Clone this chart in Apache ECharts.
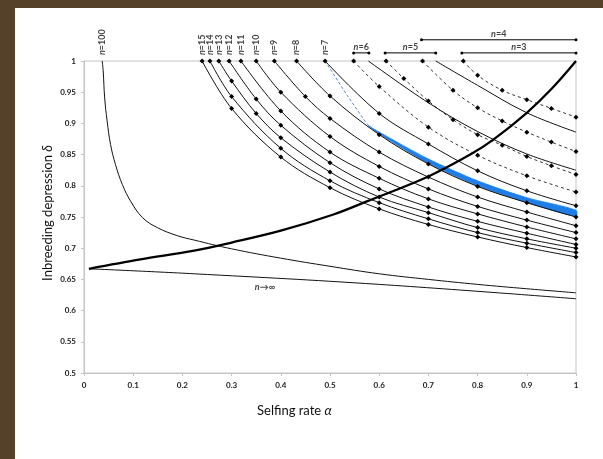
<!DOCTYPE html>
<html><head><meta charset="utf-8">
<script src="https://cdn.jsdelivr.net/npm/echarts/dist/echarts.min.js"></script>
<style>
html,body{margin:0;padding:0;background:#55402a;width:603px;height:459px;overflow:hidden;}
#panel{position:absolute;left:15px;top:8px;right:0;bottom:0;background:#fff;}
#chart{position:absolute;left:0;top:0;width:603px;height:459px;}
</style></head><body>
<div id="panel"></div><div id="chart"></div>
<script>
// ---------- data: [selfing rate alpha, inbreeding depression delta] ----------
const curveN15 = [[0.240,1],[0.30,0.924],[0.40,0.846],[0.50,0.797],[0.60,0.763],[0.70,0.738],[0.80,0.718],[0.90,0.701],[1.00,0.686]];
const curveN14 = [[0.256,1],[0.30,0.943],[0.40,0.860],[0.50,0.808],[0.60,0.773],[0.70,0.747],[0.80,0.725],[0.90,0.708],[1.00,0.693]];
const curveN13 = [[0.274,1],[0.30,0.968],[0.35,0.916],[0.40,0.877],[0.50,0.822],[0.60,0.782],[0.70,0.757],[0.80,0.733],[0.90,0.715],[1.00,0.700]];
const curveN12 = [[0.295,1],[0.35,0.939],[0.40,0.897],[0.50,0.837],[0.60,0.795],[0.70,0.766],[0.80,0.743],[0.90,0.724],[1.00,0.706]];
const curveN11 = [[0.319,1],[0.40,0.920],[0.50,0.854],[0.60,0.812],[0.70,0.779],[0.80,0.755],[0.90,0.734],[1.00,0.715]];
const curveN10 = [[0.350,1],[0.40,0.950],[0.50,0.879],[0.60,0.831],[0.70,0.795],[0.80,0.767],[0.90,0.745],[1.00,0.725]];
const curveN9  = [[0.387,1],[0.45,0.943],[0.50,0.908],[0.60,0.854],[0.70,0.814],[0.80,0.782],[0.90,0.758],[1.00,0.736]];
const curveN8  = [[0.432,1],[0.50,0.944],[0.60,0.882],[0.70,0.835],[0.80,0.799],[0.90,0.773],[1.00,0.750]];
const curveN7  = [[0.490,1],[0.60,0.916],[0.70,0.867],[0.80,0.824],[0.90,0.792],[1.00,0.768]];

const dashN3 = [[0.771,1],[0.80,0.977],[0.85,0.953],[0.90,0.938],[0.95,0.924],[1.00,0.910]];
const dashN4 = [[0.688,1],[0.75,0.953],[0.80,0.925],[0.85,0.904],[0.90,0.886],[0.95,0.870],[1.00,0.855]];
const dashN5 = [[0.614,1],[0.65,0.972],[0.70,0.936],[0.75,0.906],[0.80,0.882],[0.85,0.865],[0.90,0.847],[0.95,0.832],[1.00,0.818]];
const dashN6 = [[0.548,1],[0.60,0.959],[0.70,0.894],[0.80,0.849],[0.90,0.816],[1.00,0.790]];

const solidN5 = [[0.715,1],[0.80,0.961],[0.90,0.917],[1.00,0.886]];
const solidN6 = [[0.578,1],[0.70,0.933],[0.80,0.887],[0.90,0.851],[1.00,0.825]];

const curveN100 = [[0.037,1],[0.039,0.984],[0.042,0.941],[0.047,0.904],[0.054,0.866],[0.064,0.834],[0.078,0.802],[0.095,0.775],[0.119,0.749],[0.149,0.733],[0.190,0.720],[0.224,0.713],[0.30,0.699],[0.40,0.684],[0.50,0.671],[0.60,0.659],[0.70,0.650],[0.80,0.642],[0.90,0.635],[1.00,0.6285]];
const curveInf = [[0.01,0.667],[0.224,0.659],[0.60,0.642],[1.00,0.619]];
const thickCurve = [[0.01,0.667],[0.115,0.682],[0.224,0.696],[0.30,0.709],[0.40,0.728],[0.507,0.754],[0.575,0.775],[0.70,0.815],[0.785,0.850],[0.832,0.874],[0.90,0.917],[0.95,0.955],[1.00,1.00]];

const blueDash = [[0.49,1],[0.535,0.945],[0.577,0.897]];
const bandBase = [[0.577,0.897],[0.60,0.883],[0.70,0.836],[0.80,0.800],[0.90,0.773],[1.00,0.751]];
const bandWidth = [0, 0.003, 0.007, 0.008, 0.008, 0.010];

const markerCurves = [curveN15,curveN14,curveN13,curveN12,curveN11,curveN10,curveN9,curveN8,curveN7];
const markerNames  = ['15','14','13','12','11','10','9','8','7'];
const dashCurves = [dashN3,dashN4,dashN5,dashN6];
const solidCurves = [solidN5,solidN6];

// bracket annotations (n = 6,5,4,3): [from alpha, to alpha]
const bracketNames = ['6','5','4','3'];
const bracketSpans = [[0.548,0.579],[0.612,0.715],[0.686,1.0],[0.768,1.0]];
const bracketLevels = [1.013,1.013,1.034,1.013];

const yTicks = {min:0.5, max:1, step:0.05};
const xTicks = {min:0, max:1, step:0.1};

// ---------- chart ----------
const FONT = 'Lato, "DejaVu Sans", sans-serif';
const series = [];
const base = {type:'line', silent:true, animation:false, clip:false};

// blue band (polygon between base curve and base+width, through the axes' coordinate conversion)
series.push({type:'custom', silent:true, animation:false, clip:false, z:1, data:[bandBase[0]],
  renderItem:function(params, api){
    const upper = bandBase.map((p,i)=>api.coord([p[0], p[1]+bandWidth[i]]));
    const lower = bandBase.map(p=>api.coord(p)).reverse();
    return {type:'polygon', shape:{points: upper.concat(lower), smooth:0.25},
      style:{fill:'#1f7fe8', stroke:'#1f7fe8', lineWidth:0.8}};
  }});
series.push(Object.assign({}, base, {data: blueDash, smooth:0.3, symbol:'none', lineStyle:{color:'#5a86c0', width:1, type:[3,2]}, z:2}));

markerCurves.forEach(d => series.push(Object.assign({}, base, {data:d, smooth:0.35, symbol:'diamond', symbolSize:5,
  itemStyle:{color:'#000'}, lineStyle:{color:'#111', width:1}, z:3})));
dashCurves.forEach(d => series.push(Object.assign({}, base, {data:d, smooth:0.35, symbol:'diamond', symbolSize:5,
  itemStyle:{color:'#000'}, lineStyle:{color:'#333', width:1, type:[3,3]}, z:3})));
solidCurves.forEach(d => series.push(Object.assign({}, base, {data:d, smooth:0.35, symbol:'none',
  lineStyle:{color:'#111', width:1}, z:3})));
series.push(Object.assign({}, base, {data:curveN100, smooth:0.4, symbol:'none', lineStyle:{color:'#111', width:1}, z:3}));
series.push(Object.assign({}, base, {data:curveInf, smooth:0.4, symbol:'none', lineStyle:{color:'#111', width:1}, z:3}));
series.push(Object.assign({}, base, {data:thickCurve, smooth:0.35, symbol:'none', lineStyle:{color:'#000', width:2.3}, z:4}));

// brackets
bracketSpans.forEach((s,i) => {
  series.push(Object.assign({}, base, {data:[[s[0],bracketLevels[i]],[s[1],bracketLevels[i]]], symbol:'circle', symbolSize:3,
    itemStyle:{color:'#000'}, lineStyle:{color:'#000', width:1}, z:5}));
});
const richN = {i:{fontStyle:'italic', fontWeight:'bold', fontSize:9, fontFamily:FONT, color:'#111'},
               t:{fontWeight:'bold', fontSize:9, fontFamily:FONT, color:'#111'}};
series.push({type:'scatter', silent:true, animation:false, symbolSize:0, z:6, clip:false,
  data: bracketSpans.map((s,i)=>({value:[(s[0]+s[1])/2, bracketLevels[i]], label:{formatter:'{i|n}{t|=' + bracketNames[i] + '}'}})),
  label:{show:true, position:'top', distance:1, rich:richN}});

// rotated top labels
const topLabelData = markerCurves.map((c,i)=>({value:[c[0][0],1], label:{formatter:'{i|n}{t|=' + markerNames[i] + '}'}}));
topLabelData.push({value:[curveN100[0][0],1], label:{formatter:'{i|n}{t|=100}'}});
series.push({type:'scatter', silent:true, animation:false, symbolSize:0, z:6, clip:false, data: topLabelData,
  label:{show:true, position:'top', distance:6, rotate:90, align:'left', verticalAlign:'middle', rich:richN}});

// n -> infinity label
series.push({type:'scatter', silent:true, animation:false, symbolSize:0, z:6, clip:false,
  data:[{value:[0.368,0.637]}],
  label:{show:true, position:'inside', formatter:'{i|n}{t|\u2192\u221e}', rich:richN}});

const fmt = v => String(+Number(v).toFixed(2));
const chart = echarts.init(document.getElementById('chart'), null, {renderer:'canvas'});
chart.setOption({
  backgroundColor:'transparent',
  animation:false,
  grid:{left:84, top:61, right:27, bottom:86, show:true, borderColor:'#c4c4c4', borderWidth:1, backgroundColor:'transparent'},
  xAxis:{type:'value', min:xTicks.min, max:xTicks.max, interval:xTicks.step,
    axisLine:{show:true, lineStyle:{color:'#c4c4c4'}}, axisTick:{show:true, length:3, lineStyle:{color:'#c4c4c4'}},
    splitLine:{show:false},
    axisLabel:{formatter:fmt, color:'#222', fontSize:8, fontWeight:'bold', fontFamily:FONT, margin:8}},
  yAxis:{type:'value', min:yTicks.min, max:yTicks.max, interval:yTicks.step,
    axisLine:{show:true, lineStyle:{color:'#c4c4c4'}}, axisTick:{show:true, length:3, lineStyle:{color:'#c4c4c4'}},
    splitLine:{show:false},
    axisLabel:{formatter:fmt, color:'#222', fontSize:8, fontWeight:'bold', fontFamily:FONT, margin:8}},
  graphic:[
    {type:'text', left:257, top:404, style:{text:'{a|Selfing rate }{b|α}', rich:{
      a:{fontSize:13, fontFamily:FONT, fill:'#111'}, b:{fontSize:13, fontFamily:FONT, fontStyle:'italic', fill:'#111'}}}},
    {type:'text', x:48, y:213, rotation:Math.PI/2, style:{text:'{a|Inbreeding depression }{b|δ}', align:'center', verticalAlign:'middle', rich:{
      a:{fontSize:13, fontFamily:FONT, fill:'#111'}, b:{fontSize:13, fontFamily:FONT, fontStyle:'italic', fill:'#111'}}}}
  ],
  series: series
});
</script>
</body></html>
